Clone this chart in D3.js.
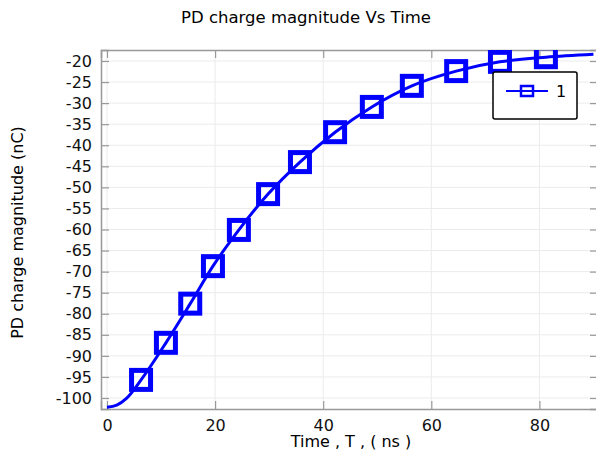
<!DOCTYPE html>
<html>
<head>
<meta charset="utf-8">
<script src="https://cdn.jsdelivr.net/npm/d3@7"></script>
<style>
  body { margin: 0; background: #fff; }
  text { font-family: "DejaVu Sans", sans-serif; }
</style>
</head>
<body>
<div id="Canvas"></div>
<script>
// 資料 (從圖上讀的)
let markerTime = [6.3, 10.9, 15.4, 19.6, 24.4, 29.8, 35.7, 42.2, 49.0, 56.4, 64.6, 72.7, 81.2]
let markerCharge = [-95.7, -86.9, -77.6, -68.7, -60.1, -51.6, -44.0, -36.9, -30.9, -25.9, -22.4, -20.2, -19.1]
// 曲線 (含頭尾)
let curveTime = [0, 1.8, 3.6, 6.3, 10.9, 15.4, 19.6, 24.4, 29.8, 35.7, 42.2, 49.0, 56.4, 64.6, 72.7, 81.2, 90]
let curveCharge = [-102.2, -101.7, -100.1, -95.7, -86.9, -77.6, -68.7, -60.1, -51.6, -44.0, -36.9, -30.9, -25.9, -22.4, -20.2, -19.1, -18.4]
let xTicks = [0, 20, 40, 60, 80]
let yTicks = [-100, -95, -90, -85, -80, -75, -70, -65, -60, -55, -50, -45, -40, -35, -30, -25, -20]
let legendLabel = "1"

let W = 596, H = 454
let L = 101, T = 50, R = 598, B = 409

let svg = d3.select("#Canvas")
    .append("svg")
    .attr("width", W)
    .attr("height", H)

let xScale = d3.scaleLinear()
    .domain([-1.11, 90.84])
    .range([L, R])
let yScale = d3.scaleLinear()
    .domain([-102.61, -17.39])
    .range([B, T])

//標題
svg.append("text")
    .attr("x", 306).attr("y", 23)
    .attr("text-anchor", "middle")
    .style("font-size", "16.5px")
    .text("PD charge magnitude Vs Time")

//格線
svg.append("g")
    .selectAll("line")
    .data(xTicks)
    .enter()
    .append("line")
    .attr("x1", d => xScale(d)).attr("x2", d => xScale(d))
    .attr("y1", T).attr("y2", B)
    .style("stroke", "#ebebeb")
svg.append("g")
    .selectAll("line")
    .data(yTicks)
    .enter()
    .append("line")
    .attr("x1", L).attr("x2", R)
    .attr("y1", d => yScale(d)).attr("y2", d => yScale(d))
    .style("stroke", "#ebebeb")

//軸 (刻度朝內)
let axisColor = "#999"
let gLeft = svg.append("g")
    .attr("transform", `translate(${L},0)`)
    .call(d3.axisLeft(yScale).tickValues(yTicks).tickSize(-8).tickPadding(9).tickFormat(d3.format("d")))
let gRight = svg.append("g")
    .attr("transform", `translate(${R},0)`)
    .call(d3.axisRight(yScale).tickValues(yTicks).tickSize(-8).tickFormat(""))
let gBottom = svg.append("g")
    .attr("transform", `translate(0,${B})`)
    .call(d3.axisBottom(xScale).tickValues(xTicks).tickSize(-8).tickPadding(11))
let gTop = svg.append("g")
    .attr("transform", `translate(0,${T})`)
    .call(d3.axisTop(xScale).tickValues(xTicks).tickSize(-8).tickFormat(""))
;[gLeft, gRight, gBottom, gTop].forEach(g => {
    g.select(".domain").style("stroke", axisColor).style("stroke-width", 1.5)
    g.selectAll(".tick line").style("stroke", axisColor).style("stroke-width", 1.2)
    g.selectAll("text").style("font-size", "16px").style("fill", "#111")
        .style("font-family", "DejaVu Sans, sans-serif")
})
gLeft.selectAll("text").text(d => d3.format("d")(d).replace("−", "-"))

//軸標籤
svg.append("text")
    .attr("x", 351).attr("y", 447)
    .attr("text-anchor", "middle")
    .style("font-size", "16px")
    .text("Time , T , ( ns )")
svg.append("text")
    .attr("transform", `translate(23,${(T + B) / 2 + 3}) rotate(-90)`)
    .attr("text-anchor", "middle")
    .style("font-size", "16px")
    .text("PD charge magnitude (nC)")

//裁切
svg.append("clipPath").attr("id", "plotClip")
    .append("rect")
    .attr("x", L).attr("y", T)
    .attr("width", R - L).attr("height", B - T)

let plot = svg.append("g").attr("clip-path", "url(#plotClip)")

let curveData = curveTime.map((t, i) => ({ t: t, q: curveCharge[i] }))
let markerData = markerTime.map((t, i) => ({ t: t, q: markerCharge[i] }))

let line = d3.line()
    .x(d => xScale(d.t))
    .y(d => yScale(d.q))
    .curve(d3.curveMonotoneX)

plot.append("path")
    .datum(curveData)
    .attr("d", line)
    .style("fill", "none")
    .style("stroke", "#0000ff")
    .style("stroke-width", 3)

let ms = 19
plot.append("g")
    .selectAll("rect")
    .data(markerData)
    .enter()
    .append("rect")
    .attr("x", d => xScale(d.t) - ms / 2)
    .attr("y", d => yScale(d.q) - ms / 2)
    .attr("width", ms).attr("height", ms)
    .style("fill", "none")
    .style("stroke", "#0000ff")
    .style("stroke-width", 5)

//圖例
let lg = svg.append("g")
lg.append("rect")
    .attr("x", 493).attr("y", 72)
    .attr("width", 84).attr("height", 47)
    .attr("rx", 2)
    .style("fill", "#fff")
    .style("stroke", "#000")
    .style("stroke-width", 1.5)
lg.append("line")
    .attr("x1", 506).attr("x2", 548)
    .attr("y1", 91).attr("y2", 91)
    .style("stroke", "#0000ff")
    .style("stroke-width", 2)
lg.append("rect")
    .attr("x", 521).attr("y", 86)
    .attr("width", 12).attr("height", 10)
    .style("fill", "none")
    .style("stroke", "#0000ff")
    .style("stroke-width", 2.5)
lg.append("text")
    .attr("x", 556).attr("y", 97)
    .style("font-size", "16px")
    .text(legendLabel)
</script>
</body>
</html>
